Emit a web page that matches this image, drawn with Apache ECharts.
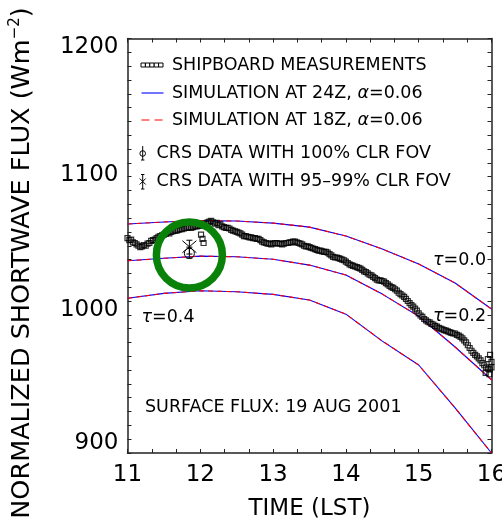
<!DOCTYPE html>
<html><head><meta charset="utf-8">
<script src="https://cdn.jsdelivr.net/npm/echarts@6/dist/echarts.min.js"></script>
<style>html,body{margin:0;padding:0;background:#fff;overflow:hidden}#c{width:502px;height:528px}</style>
</head><body><div id="c"></div>
<script>
// ---- data ----
const simHours = [11, 11.5, 12, 12.5, 13, 13.5, 14, 14.5, 15, 15.5, 16];
const sim24Tau00 = [1065.7, 1067.2, 1068.2, 1067.9, 1066.4, 1063.5, 1057.0, 1047.6, 1036.8, 1023.0, 1004.2];
const sim24Tau02 = [1039.1, 1040.9, 1042.5, 1042.0, 1040.2, 1036.0, 1028.8, 1015.0, 999.0, 976.7, 953.0];
const sim24Tau04 = [1012.0, 1015.5, 1017.4, 1016.7, 1014.8, 1010.7, 1000.5, 981.0, 963.7, 932.6, 900.0];
const sim18Tau00 = [1065.7, 1067.2, 1068.2, 1067.9, 1066.4, 1063.5, 1057.0, 1047.6, 1036.8, 1023.0, 1004.2];
const sim18Tau02 = [1039.1, 1040.9, 1042.5, 1042.0, 1040.2, 1036.0, 1028.8, 1015.0, 999.0, 976.7, 953.0];
const sim18Tau04 = [1012.0, 1015.5, 1017.4, 1016.7, 1014.8, 1010.7, 1000.5, 981.0, 963.7, 932.6, 900.0];

const shipTime = [
  11.000,11.025,11.050,11.075,11.100,11.125,11.150,11.175,11.200,11.225,11.250,11.275,11.300,11.325,11.350,11.375,11.400,11.425,11.450,11.475,
  11.500,11.525,11.550,11.575,11.600,11.625,11.650,11.675,11.700,11.725,11.750,11.775,11.800,11.825,11.850,11.875,11.900,11.925,11.950,11.975,
  12.000,12.010,12.030,12.045,12.025,12.050,12.075,12.100,12.125,12.150,12.175,12.200,12.225,12.250,12.275,12.300,12.325,12.350,12.375,12.400,
  12.425,12.450,12.475,12.500,12.525,12.550,12.575,12.600,12.625,12.650,12.675,12.700,12.725,12.750,12.775,12.800,12.825,12.850,12.875,12.900,
  12.925,12.950,12.975,13.000,13.025,13.050,13.075,13.100,13.125,13.150,13.175,13.200,13.225,13.250,13.275,13.300,13.325,13.350,13.375,13.400,
  13.425,13.450,13.475,13.500,13.525,13.550,13.575,13.600,13.625,13.650,13.675,13.700,13.725,13.750,13.775,13.800,13.825,13.850,13.875,13.900,
  13.925,13.950,13.975,14.000,14.025,14.050,14.075,14.100,14.125,14.150,14.175,14.200,14.225,14.250,14.275,14.300,14.325,14.350,14.375,14.400,
  14.425,14.450,14.475,14.500,14.525,14.550,14.575,14.600,14.625,14.650,14.675,14.700,14.725,14.750,14.775,14.800,14.825,14.850,14.875,14.900,
  14.925,14.950,14.975,15.000,15.025,15.050,15.075,15.100,15.125,15.150,15.175,15.200,15.225,15.250,15.275,15.300,15.325,15.350,15.375,15.400,
  15.425,15.450,15.475,15.500,15.525,15.550,15.575,15.600,15.625,15.650,15.675,15.700,15.725,15.750,15.775,15.800,15.825,15.850,15.875,15.900,
  15.925,15.950,15.975,16.000,15.920,15.950,15.980,16.000,15.970];
const shipFlux = [
  1055.5,1054.0,1054.5,1052.5,1052.0,1051.0,1050.0,1049.0,1049.5,1050.5,1050.0,1051.5,1052.0,1053.5,1054.0,1054.5,1055.5,1056.5,1057.0,1057.5,
  1058.0,1058.5,1059.5,1059.0,1060.0,1060.5,1061.0,1061.0,1061.5,1062.0,1062.0,1062.5,1063.0,1063.0,1063.5,1063.0,1063.5,1064.0,1064.0,1064.5,
  1064.5,1058.0,1055.0,1052.0,1065.0,1065.5,1066.0,1067.0,1067.5,1068.0,1067.0,1066.0,1066.5,1065.0,1065.5,1064.0,1063.5,1063.0,1063.0,1062.5,
  1061.5,1061.0,1060.5,1060.0,1059.5,1059.0,1058.0,1057.0,1057.0,1056.5,1056.0,1056.0,1055.5,1055.5,1055.0,1055.0,1054.0,1053.0,1052.5,1052.0,
  1051.5,1051.5,1051.0,1051.5,1052.0,1052.0,1051.5,1051.5,1051.0,1051.5,1052.0,1052.0,1052.5,1052.5,1053.0,1053.0,1052.5,1052.0,1051.5,1051.0,
  1050.0,1049.5,1049.5,1049.0,1048.5,1048.0,1047.5,1047.0,1046.5,1046.5,1046.0,1045.5,1045.5,1045.0,1044.0,1043.0,1042.0,1041.5,1041.5,1041.0,
  1040.5,1040.0,1039.5,1038.5,1037.5,1036.5,1036.0,1035.5,1035.0,1034.5,1034.0,1033.5,1032.5,1031.5,1031.0,1030.0,1029.0,1028.5,1027.5,1026.5,
  1025.5,1025.0,1025.0,1024.5,1024.0,1023.0,1022.0,1021.0,1020.0,1019.5,1018.5,1017.5,1016.0,1015.0,1014.0,1013.0,1011.5,1010.0,1008.5,1007.0,
  1006.0,1004.5,1003.0,1001.0,999.5,998.5,997.0,996.0,995.0,994.5,993.5,993.0,992.0,991.5,990.5,990.0,989.5,989.0,988.5,988.0,
  987.5,987.0,986.5,986.5,985.5,985.0,984.0,983.0,981.5,980.0,978.0,976.0,974.0,972.5,971.0,970.0,968.5,967.0,965.0,963.5,
  962.0,961.0,960.5,962.0,958.0,968.0,971.0,966.0,957.0];

// CRS points: [time, flux, low, high]
const crs100 = [11.85, 1044.5, 1041, 1049];
const crs95 = [11.85, 1049.3, 1044, 1054];
const highlightPoint = [11.85, 1043.3];

const xMin = 11, xMax = 16, yMin = 900, yMax = 1200;

// ---- chart ----
const FONT = 'DejaVu Sans';
const chart = echarts.init(document.getElementById('c'), null, {renderer: 'canvas'});

function toPairs(xs, ys) { return xs.map((x, i) => [x, ys[i]]); }

const axisCommon = {
  axisLine: {show: true, lineStyle: {color: '#222', width: 1.5}},
  axisTick: {show: true, inside: true, length: 4, lineStyle: {color: '#222', width: 1}},
  splitLine: {show: false},
};

function lineSeries(ys, color, dashed) {
  return {
    type: 'line', data: toPairs(simHours, ys), symbol: 'none', silent: true,
    lineStyle: {color: color, width: 1.1, type: dashed ? [5, 4] : 'solid'},
    z: dashed ? 3 : 2, clip: true, animation: false
  };
}

function errRender(kind) {
  return function (params, api) {
    const x = api.value(0), y = api.value(1), lo = api.value(2), hi = api.value(3);
    const p = api.coord([x, y]), pl = api.coord([x, lo]), ph = api.coord([x, hi]);
    const st = {stroke: '#000', lineWidth: 1, fill: 'none'};
    const ch = [
      {type: 'line', shape: {x1: pl[0], y1: pl[1], x2: ph[0], y2: ph[1]}, style: st},
      {type: 'line', shape: {x1: pl[0] - 3, y1: pl[1], x2: pl[0] + 3, y2: pl[1]}, style: st},
      {type: 'line', shape: {x1: ph[0] - 3, y1: ph[1], x2: ph[0] + 3, y2: ph[1]}, style: st}
    ];
    if (kind === 0) {
      ch.push({type: 'circle', shape: {cx: p[0], cy: p[1], r: 5}, style: st});
    } else {
      ch.push({type: 'line', shape: {x1: p[0] - 7, y1: p[1] - 6, x2: p[0] + 7, y2: p[1] + 6}, style: st});
      ch.push({type: 'line', shape: {x1: p[0] - 7, y1: p[1] + 6, x2: p[0] + 7, y2: p[1] - 6}, style: st});
    }
    return {type: 'group', children: ch};
  };
}

const legendFont = {fontFamily: FONT, fontSize: 17.5, fill: '#000'};
const legRich = {a: {fontFamily: FONT, fontSize: 17.5}, g: {fontFamily: FONT, fontSize: 17.5, fontStyle: 'italic'}};

const shipIcon = [];
for (let i = 0; i < 5; i++) {
  shipIcon.push({type: 'rect', shape: {x: 141 + i * 4.4, y: 63, width: 4.4, height: 4}, style: {stroke: '#000', lineWidth: 1, fill: '#fff'}});
}

const graphics = [
  ...shipIcon,
  {type: 'text', x: 172, y: 65, style: Object.assign({text: 'SHIPBOARD MEASUREMENTS', verticalAlign: 'middle'}, legendFont)},
  {type: 'line', shape: {x1: 141.5, y1: 93, x2: 163.5, y2: 93}, style: {stroke: '#0000ff', lineWidth: 1.1}},
  {type: 'text', x: 172, y: 93, style: Object.assign({text: '{a|SIMULATION AT 24Z, }{g|α}{a|=0.06}', rich: legRich, verticalAlign: 'middle'}, legendFont)},
  {type: 'line', shape: {x1: 141.5, y1: 120, x2: 163.5, y2: 120}, style: {stroke: '#ff0000', lineWidth: 1.1, lineDash: [8, 5]}},
  {type: 'text', x: 172, y: 120, style: Object.assign({text: '{a|SIMULATION AT 18Z, }{g|α}{a|=0.06}', rich: legRich, verticalAlign: 'middle'}, legendFont)},
  // phi icon
  {type: 'line', shape: {x1: 142.7, y1: 146, x2: 142.7, y2: 160}, style: {stroke: '#000', lineWidth: 1}},
  {type: 'line', shape: {x1: 141, y1: 160, x2: 144.4, y2: 160}, style: {stroke: '#000', lineWidth: 1}},
  {type: 'circle', shape: {cx: 142.7, cy: 153.5, r: 2.8}, style: {stroke: '#000', lineWidth: 1, fill: 'none'}},
  {type: 'text', x: 156.5, y: 153, style: Object.assign({text: 'CRS DATA WITH 100% CLR FOV', verticalAlign: 'middle'}, legendFont)},
  // asterisk icon
  {type: 'line', shape: {x1: 142.7, y1: 174.5, x2: 142.7, y2: 189}, style: {stroke: '#000', lineWidth: 1}},
  {type: 'line', shape: {x1: 141, y1: 174.5, x2: 144.4, y2: 174.5}, style: {stroke: '#000', lineWidth: 1}},
  {type: 'line', shape: {x1: 141, y1: 189, x2: 144.4, y2: 189}, style: {stroke: '#000', lineWidth: 1}},
  {type: 'line', shape: {x1: 139.7, y1: 178.5, x2: 145.7, y2: 184.5}, style: {stroke: '#000', lineWidth: 1}},
  {type: 'line', shape: {x1: 139.7, y1: 184.5, x2: 145.7, y2: 178.5}, style: {stroke: '#000', lineWidth: 1}},
  {type: 'text', x: 156.5, y: 181.7, style: Object.assign({text: 'CRS DATA WITH 95\u201399% CLR FOV', verticalAlign: 'middle'}, legendFont)},
  // annotation texts
  {type: 'text', x: 145, y: 407, style: Object.assign({text: 'SURFACE FLUX: 19 AUG 2001', verticalAlign: 'middle'}, legendFont)},
  {type: 'text', x: 433, y: 260, style: Object.assign({text: '{g|τ}{a|=0.0}', rich: legRich, verticalAlign: 'middle'}, legendFont)},
  {type: 'text', x: 433, y: 316, style: Object.assign({text: '{g|τ}{a|=0.2}', rich: legRich, verticalAlign: 'middle'}, legendFont)},
  {type: 'text', x: 141.5, y: 317, style: Object.assign({text: '{g|τ}{a|=0.4}', rich: legRich, verticalAlign: 'middle'}, legendFont)},
  // y-axis title
  {type: 'text', x: 22, y: 263, rotation: Math.PI / 2,
    style: {text: '{a|NORMALIZED SHORTWAVE FLUX (Wm}{s|\u22122}{a|)}', align: 'center', verticalAlign: 'middle',
      fontFamily: FONT, fontSize: 25.5, fill: '#000',
      rich: {a: {fontFamily: FONT, fontSize: 25.5}, s: {fontFamily: FONT, fontSize: 15, verticalAlign: 'top', padding: [0, 0, 13, 0]}}}}
];

const option = {
  backgroundColor: '#fff',
  animation: false,
  grid: {left: 127.5, right: 10.5, top: 38.5, bottom: 75, containLabel: false, outerBoundsMode: 'none'},
  xAxis: [
    Object.assign({}, axisCommon, {
      type: 'value', min: xMin, max: xMax, interval: 1, position: 'bottom',
      minorTick: {show: true, splitNumber: 3, length: 4, lineStyle: {color: '#222', width: 1}},
      axisLabel: {fontFamily: FONT, fontSize: 23, color: '#000', margin: 11, hideOverlap: false},
      name: 'TIME (LST)', nameLocation: 'middle', nameGap: 45,
      nameTextStyle: {fontFamily: FONT, fontSize: 23, color: '#000'}
    }),
    Object.assign({}, axisCommon, {
      type: 'value', min: xMin, max: xMax, interval: 1, position: 'top',
      minorTick: {show: true, splitNumber: 3, length: 4, lineStyle: {color: '#222', width: 1}},
      axisLabel: {show: false}
    })
  ],
  yAxis: [
    Object.assign({}, axisCommon, {
      type: 'value', min: yMin, max: yMax, interval: 100, position: 'left',
      minorTick: {show: true, splitNumber: 10, length: 4, lineStyle: {color: '#222', width: 1}},
      axisLabel: {
        fontFamily: FONT, fontSize: 23, color: '#000', margin: 9,
        formatter: function (v) {
          if (v === 1200) return '{t|' + v + '}';
          if (v === 900) return '{b|' + v + '}';
          if (v === 1000) return '{m|' + v + '}';
          return '{n|' + v + '}';
        },
        rich: {
          t: {fontFamily: FONT, fontSize: 23, padding: [17, 0, 0, 0]},
          b: {fontFamily: FONT, fontSize: 23, padding: [0, 0, 20, 0]},
          m: {fontFamily: FONT, fontSize: 23, padding: [0, 0, 9, 0]},
          n: {fontFamily: FONT, fontSize: 23, padding: [0, 0, 3, 0]}
        }
      }
    }),
    Object.assign({}, axisCommon, {
      type: 'value', min: yMin, max: yMax, interval: 100, position: 'right',
      minorTick: {show: true, splitNumber: 10, length: 4, lineStyle: {color: '#222', width: 1}},
      axisLabel: {show: false}
    })
  ],
  series: [
    lineSeries(sim24Tau00, '#0000ff', false),
    lineSeries(sim24Tau02, '#0000ff', false),
    lineSeries(sim24Tau04, '#0000ff', false),
    lineSeries(sim18Tau00, '#ff0000', true),
    lineSeries(sim18Tau02, '#ff0000', true),
    lineSeries(sim18Tau04, '#ff0000', true),
    {
      type: 'scatter', data: toPairs(shipTime, shipFlux), symbol: 'rect', symbolSize: 5,
      itemStyle: {color: 'rgba(0,0,0,0)', borderColor: '#000', borderWidth: 1.2}, z: 4, silent: true
    },
    {type: 'custom', data: [crs100], renderItem: errRender(0), z: 5, silent: true},
    {type: 'custom', data: [crs95], renderItem: errRender(1), z: 5, silent: true},
    {
      type: 'scatter', data: [highlightPoint], symbol: 'circle', symbolSize: 66,
      itemStyle: {color: 'rgba(0,0,0,0)', borderColor: '#0a820a', borderWidth: 7.5, opacity: 1}, z: 6, silent: true
    }
  ],
  graphic: graphics
};
chart.setOption(option);
</script>
</body></html>
